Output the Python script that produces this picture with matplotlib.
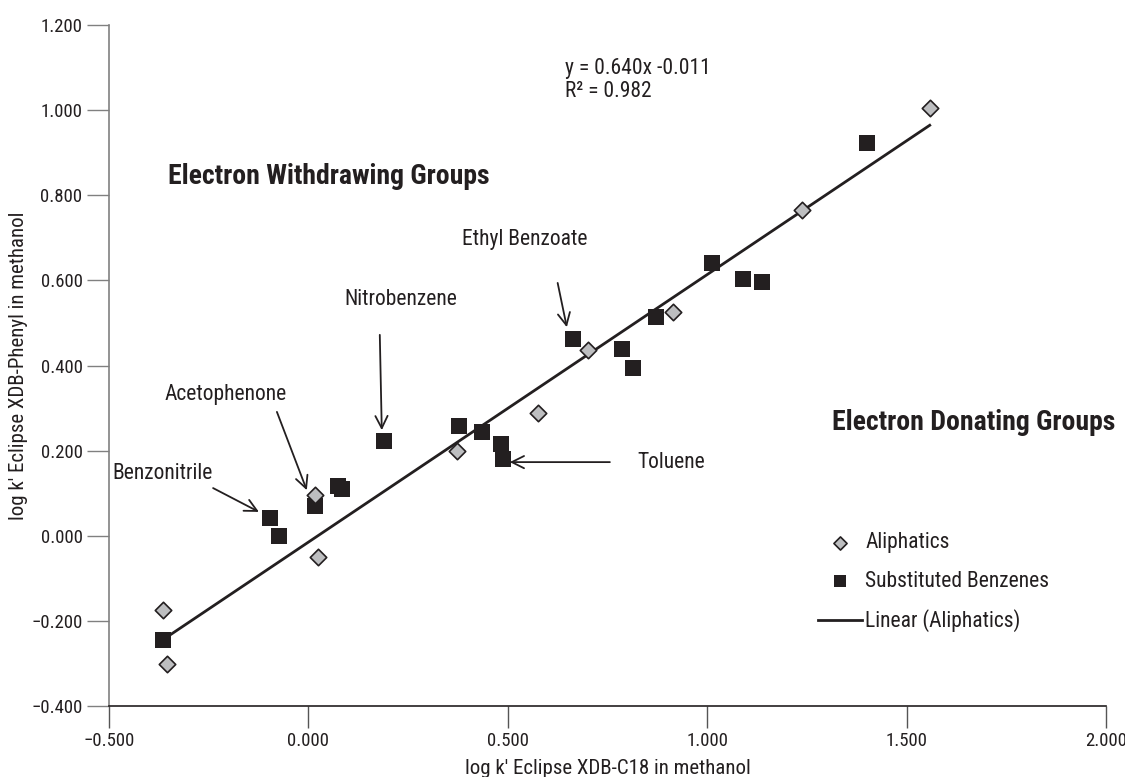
import numpy as np
import matplotlib
matplotlib.use("Agg")
import matplotlib.pyplot as plt
from matplotlib import font_manager

# ---------------- data ----------------
aliph_x = [1.558, 1.237, 0.913, 0.700, 0.575, 0.372, 0.016, 0.024, -0.365, -0.355]
aliph_y = [1.005, 0.765, 0.526, 0.436, 0.288, 0.199, 0.096, -0.050, -0.175, -0.301]

subst_x = [-0.097, -0.074, 0.016, 0.074, 0.084, 0.189, 0.377, 0.435, 0.482, 0.488,
           -0.365, 0.663, 0.786, 0.814, 0.871, 1.011, 1.089, 1.137, 1.400]
subst_y = [0.042, 0.000, 0.070, 0.117, 0.110, 0.223, 0.258, 0.244, 0.216, 0.180,
           -0.245, 0.462, 0.439, 0.394, 0.514, 0.641, 0.603, 0.596, 0.923]

eq_slope = 0.640
eq_intercept = -0.011
eq_r2 = 0.982

x_ticks = [-0.5, 0.0, 0.5, 1.0, 1.5, 2.0]
y_ticks = [-0.4, -0.2, 0.0, 0.2, 0.4, 0.6, 0.8, 1.0, 1.2]

# annotations: label, text pos, arrow start, arrow head
annots = [
    ("Ethyl Benzoate", (0.385, 0.695), (0.625, 0.594), (0.648, 0.490)),
    ("Nitrobenzene", (0.091, 0.554), (0.179, 0.472), (0.184, 0.248)),
    ("Acetophenone", (-0.360, 0.331), (-0.079, 0.291), (-0.004, 0.107)),
    ("Benzonitrile", (-0.4925, 0.147), (-0.239, 0.112), (-0.124, 0.056)),
    ("Toluene", (0.826, 0.173), (0.756, 0.173), (0.505, 0.173)),
]

# ---------------- style ----------------
names = {f.name for f in font_manager.fontManager.ttflist}
prefs = ["Roboto Condensed", "Archivo Narrow", "PT Sans Narrow", "Liberation Sans Narrow",
         "Fira Sans Condensed", "IBM Plex Sans Condensed", "Asap Condensed",
         "Encode Sans Condensed", "Barlow Semi Condensed", "Open Sans Condensed"]
fam = next((p for p in prefs if p in names), "DejaVu Sans")
plt.rcParams['font.family'] = [fam, 'DejaVu Sans']

ink = "#231f20"
fig = plt.figure(figsize=(11.25, 7.77), dpi=100)
ax = fig.add_axes([0.0969, 0.0914, 0.8862, 0.8764])

ax.set_xlim(-0.5, 2.0)
ax.set_ylim(-0.4, 1.2)

# linear trendline of the aliphatics
coef = np.polyfit(aliph_x, aliph_y, 1)
fx = np.array([min(aliph_x), max(aliph_x)])
ax.plot(fx, np.polyval(coef, fx), color=ink, lw=2.0, zorder=2,
        label="Linear (Aliphatics)")
ax.scatter(subst_x, subst_y, marker='s', s=120, color=ink, lw=0, zorder=3,
           label="Substituted Benzenes")
ax.scatter(aliph_x, aliph_y, marker='D', s=70, facecolor="#bdbec0",
           edgecolor=ink, lw=1.2, zorder=4, label="Aliphatics")

for sp in ['top', 'right']:
    ax.spines[sp].set_visible(False)
ax.spines['left'].set_color("#808080")
ax.spines['left'].set_linewidth(1.2)
ax.spines['bottom'].set_color(ink)
ax.spines['bottom'].set_linewidth(1.2)

ax.set_xticks(x_ticks)
ax.set_yticks(y_ticks)
ax.set_xticklabels([f"{v:.3f}".replace("-", "\u2212") for v in x_ticks])
ax.set_yticklabels([f"{v:.3f}".replace("-", "\u2212") for v in y_ticks])
ax.tick_params(axis='both', direction='out', length=16, width=1.0,
               labelsize=13.5, colors=ink, pad=3)
ax.tick_params(axis='y', color="#808080")
ax.tick_params(axis='x', color="#555555")

ax.set_xlabel("log k' Eclipse XDB-C18 in methanol", fontsize=15, color=ink, va='center')
ax.xaxis.set_label_coords(0.5, -0.092)
ax.set_ylabel("log k' Eclipse XDB-Phenyl in methanol", fontsize=15, color=ink, va='center')
ax.yaxis.set_label_coords(-0.0905, 0.5)

ax.text(0.643, 1.099, f"y = {eq_slope:.3f}x {eq_intercept:.3f}", fontsize=15.5,
        color=ink, va='center', ha='left')
ax.text(0.643, 1.043, f"R\u00b2 = {eq_r2:.3f}", fontsize=15.5, color=ink,
        va='center', ha='left')

ax.text(-0.352, 0.843, "Electron Withdrawing Groups", fontsize=20, fontweight='bold',
        color=ink, va='center', ha='left')
ax.text(1.312, 0.267, "Electron Donating Groups", fontsize=20, fontweight='bold',
        color=ink, va='center', ha='left')

for label, tpos, a0, a1 in annots:
    ax.text(tpos[0], tpos[1], label, fontsize=15.5, color=ink, va='center', ha='left')
    ax.annotate("", xy=a1, xytext=a0,
                arrowprops=dict(arrowstyle='->', color=ink, lw=1.3,
                                mutation_scale=22, shrinkA=0, shrinkB=0))

h, l = ax.get_legend_handles_labels()
order = [2, 1, 0]
leg = ax.legend([h[i] for i in order], [l[i] for i in order],
                loc='upper left', bbox_to_anchor=(0.711, 0.255),
                borderpad=0, borderaxespad=0,
                frameon=False, fontsize=15.5, handlelength=2.05,
                labelspacing=0.81, handletextpad=0.15, markerscale=0.8)
for t in leg.get_texts():
    t.set_color(ink)

fig.savefig("out.png", dpi=100)
